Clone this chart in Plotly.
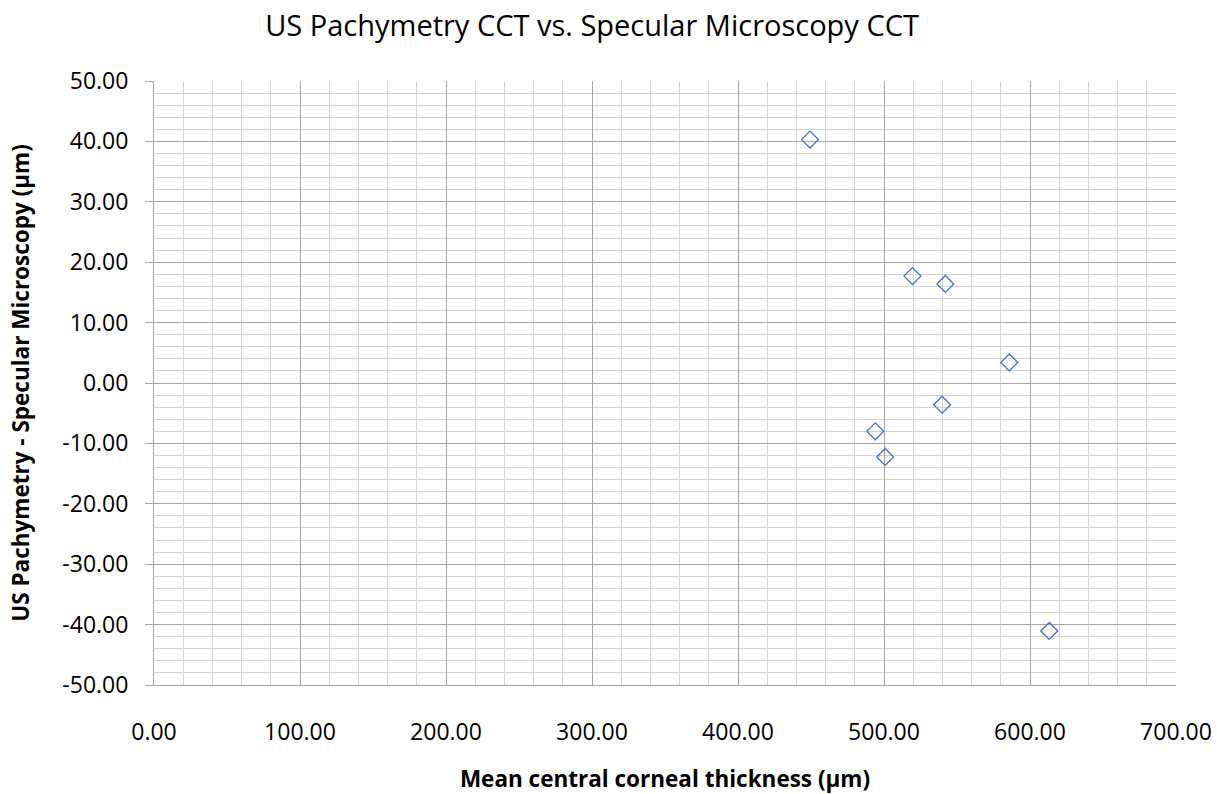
import plotly.graph_objects as go

mean_cct = [449.3, 519.5, 542.0, 585.8, 539.8, 494.0, 500.8, 613.2]
diff_cct = [40.3, 17.7, 16.4, 3.4, -3.6, -8.0, -12.25, -41.05]

x_ticks = [0, 100, 200, 300, 400, 500, 600, 700]
y_ticks = [50, 40, 30, 20, 10, 0, -10, -20, -30, -40, -50]
x_labels = [f"{v:.2f}" for v in x_ticks]
y_labels = [f"{v:.2f}" for v in y_ticks]

fig = go.Figure()
fig.add_trace(go.Scatter(
    x=mean_cct, y=diff_cct, mode="markers",
    marker=dict(symbol="diamond-open", size=13, color="#4472C4", line=dict(width=1.3, color="#4472C4")),
    showlegend=False,
))

font_family = "Open Sans, Liberation Sans, Arial"
fig.update_layout(
    width=1217, height=794,
    margin=dict(l=154, r=41, t=81, b=109),
    paper_bgcolor="white", plot_bgcolor="white",
    font=dict(family=font_family, color="black"),
    title=dict(text="US Pachymetry CCT vs. Specular Microscopy CCT", x=0.4865, xanchor="center",
               y=0.968, yanchor="middle", font=dict(size=29, color="black")),
    xaxis=dict(range=[0, 700], tickvals=x_ticks, ticktext=x_labels, tickfont=dict(size=23),
               automargin=False,
               showgrid=True, gridcolor="#a6a6a6", gridwidth=1,
               minor=dict(dtick=20, showgrid=True, gridcolor="#d4d4d4", gridwidth=1),
               showline=True, linecolor="#a6a6a6", linewidth=1, zeroline=False,
               ticks="", ticklabelstandoff=26,
               title=dict(text="<b>Mean central corneal thickness (µm)</b>", font=dict(size=22.5), standoff=27)),
    yaxis=dict(range=[-50, 50], tickvals=y_ticks, ticktext=y_labels, tickfont=dict(size=23),
               automargin=False,
               showgrid=True, gridcolor="#a6a6a6", gridwidth=1,
               minor=dict(dtick=2, showgrid=True, gridcolor="#d4d4d4", gridwidth=1),
               showline=True, linecolor="#a6a6a6", linewidth=1, zeroline=False,
               ticks="outside", ticklen=8, tickcolor="#a6a6a6", ticklabelstandoff=12,
               title=dict(text="<b>US Pachymetry - Specular Microscopy (µm)</b>", font=dict(size=22.5), standoff=26)),
)

fig.write_html("out.html", config={"displayModeBar": False},
               post_script="document.body.style.margin='0';")
